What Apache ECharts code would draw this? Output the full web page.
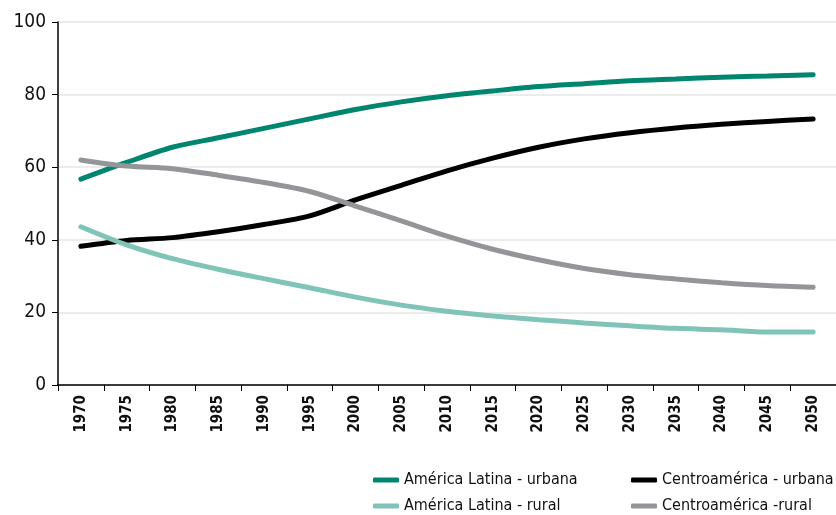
<!DOCTYPE html>
<html>
<head>
<meta charset="utf-8">
<script src="https://cdn.jsdelivr.net/npm/echarts@6/dist/echarts.min.js"></script>
<style>
  html, body { margin: 0; padding: 0; background: #fff; }
  #chart { width: 836px; height: 515px; }
</style>
</head>
<body>
<div id="chart"></div>
<script>
var years = ['1970', '1975', '1980', '1985', '1990', '1995', '2000', '2005', '2010',
  '2015', '2020', '2025', '2030', '2035', '2040', '2045', '2050'];
var alUrbana = [56.7, 61.3, 65.5, 68.1, 70.7, 73.3, 75.9, 78.0, 79.7, 81.0, 82.2, 83.0, 83.8, 84.3, 84.8, 85.1, 85.5];
var caUrbana = [38.2, 39.8, 40.6, 42.2, 44.2, 46.6, 51.0, 55.0, 59.0, 62.5, 65.5, 67.8, 69.5, 70.8, 71.8, 72.6, 73.3];
var alRural = [43.6, 38.6, 34.8, 31.9, 29.3, 26.8, 24.2, 22.0, 20.3, 19.0, 18.0, 17.1, 16.3, 15.6, 15.2, 14.6, 14.6];
var caRural = [62.0, 60.3, 59.6, 57.8, 55.8, 53.3, 49.3, 45.2, 41.0, 37.4, 34.5, 32.1, 30.4, 29.2, 28.2, 27.4, 26.9];

var font = '"Liberation Sans Narrow", "DejaVu Sans Condensed", sans-serif';

var chart = echarts.init(document.getElementById('chart'));

function line(name, data, color) {
  return {
    name: name,
    type: 'line',
    data: data,
    smooth: 0.3,
    symbol: 'none',
    lineStyle: { color: color, width: 5, cap: 'round' },
    itemStyle: { color: color }
  };
}

// each legend is narrow, so its two items wrap into a column
function legend(left, names) {
  return {
    orient: 'horizontal',
    left: left,
    top: 467,
    width: 190,
    itemWidth: 26,
    itemHeight: 5,
    itemGap: 10,
    icon: 'roundRect',
    data: names,
    textStyle: { fontFamily: font, fontSize: 16, color: '#111' }
  };
}

chart.setOption({
  animation: false,
  grid: { left: 58, right: 0, top: 22, bottom: 130 },
  legend: [
    legend(368, ['América Latina - urbana', 'América Latina - rural']),
    legend(626, ['Centroamérica - urbana', 'Centroamérica -rural'])
  ],
  xAxis: {
    type: 'category',
    data: years,
    boundaryGap: true,
    axisLine: { lineStyle: { color: '#000', width: 1.5 } },
    axisTick: { show: true, length: 6, lineStyle: { color: '#000' } },
    axisLabel: {
      rotate: 90,
      fontFamily: font,
      fontWeight: 'bold',
      fontSize: 15,
      color: '#111',
      margin: 10
    }
  },
  yAxis: {
    type: 'value',
    min: 0,
    max: 100,
    interval: 20,
    axisLine: { show: true, lineStyle: { color: '#000', width: 1.5 } },
    axisTick: { show: true, length: 6, lineStyle: { color: '#000' } },
    axisLabel: { fontFamily: font, fontSize: 19, color: '#111', margin: 12 },
    splitLine: { lineStyle: { color: '#e6e6e6', width: 1.5 } }
  },
  series: [
    line('América Latina - urbana', alUrbana, '#00856f'),
    line('Centroamérica - urbana', caUrbana, '#000000'),
    line('América Latina - rural', alRural, '#7fc4b7'),
    line('Centroamérica -rural', caRural, '#949599')
  ]
});
</script>
</body>
</html>
